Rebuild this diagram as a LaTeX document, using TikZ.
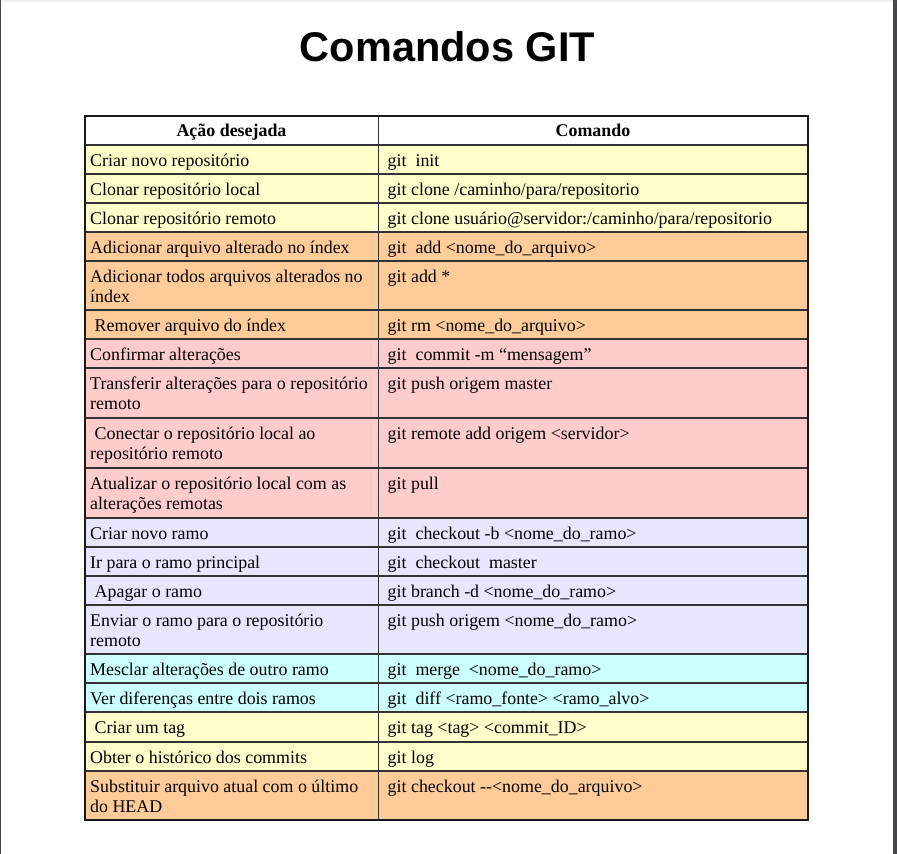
\documentclass[tikz,border=0pt]{standalone}
\usepackage{fontspec}
\setmainfont{Liberation Serif}
\newfontfamily\titlefont{Liberation Sans}
\definecolor{rowY}{HTML}{FFFFCC}
\definecolor{rowO}{HTML}{FFCC99}
\definecolor{rowP}{HTML}{FFCCCC}
\definecolor{rowL}{HTML}{E6E6FF}
\definecolor{rowC}{HTML}{CCFFFF}
\definecolor{pagegray}{HTML}{46484B}
\definecolor{gridcol}{HTML}{333333}
\newcommand\gitrow[8]{%
  \fill[#4] (85,#2) rectangle (808,#3);
  \node[cell] (#1a) at (#8,#2+21.8) {#5};
  \ifx\relax#6\relax\else\node[cell] (#1b) at (90,#2+41.8) {#6};\fi
  \node[cell] (#1c) at (387.5,#2+21.8) {#7};
}
\begin{document}
\begin{tikzpicture}[x=1pt,y=-1pt,
  cell/.style={anchor=base west,inner sep=0pt,font=\fontsize{17.9}{20.5}\selectfont},
  headcell/.style={anchor=base,inner sep=0pt,font=\bfseries\fontsize{17.9}{20.5}\selectfont},
  gridline/.style={draw=gridcol,line width=1.3pt},
  outerline/.style={draw=black!90,line width=1.5pt}]
\useasboundingbox (0,0) rectangle (897,854);
\fill[white] (0,0) rectangle (897,854);
\fill[pagegray] (892.5,0) rectangle (897,854);
\fill[pagegray] (0,0) rectangle (1.3,854);
\fill[black!6] (1.3,0) rectangle (892.5,2);

\node[font=\titlefont\bfseries\fontsize{41.5}{48}\selectfont,anchor=base,inner sep=0pt] (title) at (447.5,61.7) {Comandos GIT};

\node[headcell] (h1) at (231.5,136.8) {Ação desejada};
\node[headcell] (h2) at (593,136.8) {Comando};

\gitrow{r1}{145}{174}{rowY}{Criar novo repositório}{}{git\ \ init}{90}
\gitrow{r2}{174}{203}{rowY}{Clonar repositório local}{}{git clone /caminho/para/repositorio}{90}
\gitrow{r3}{203}{232}{rowY}{Clonar repositório remoto}{}{git clone usuário@servidor:/caminho/para/repositorio}{90}
\gitrow{r4}{232}{261}{rowO}{Adicionar arquivo alterado no índex}{}{git\ \ add <nome\_do\_arquivo>}{90}
\gitrow{r5}{261}{310}{rowO}{Adicionar todos arquivos alterados no}{índex}{git add *}{90}
\gitrow{r6}{310}{339}{rowO}{Remover arquivo do índex}{}{git rm <nome\_do\_arquivo>}{94.5}
\gitrow{r7}{339}{368}{rowP}{Confirmar alterações}{}{git\ \ commit -m “mensagem”}{90}
\gitrow{r8}{368}{418}{rowP}{Transferir alterações para o repositório}{remoto}{git push origem master}{90}
\gitrow{r9}{418}{468}{rowP}{Conectar o repositório local ao}{repositório remoto}{git remote add origem <servidor>}{94.5}
\gitrow{r10}{468}{518}{rowP}{Atualizar o repositório local com as}{alterações remotas}{git pull}{90}
\gitrow{r11}{518}{547}{rowL}{Criar novo ramo}{}{git\ \ checkout -b <nome\_do\_ramo>}{90}
\gitrow{r12}{547}{576}{rowL}{Ir para o ramo principal}{}{git\ \ checkout\ \ master}{90}
\gitrow{r13}{576}{605}{rowL}{Apagar o ramo}{}{git branch -d <nome\_do\_ramo>}{94.5}
\gitrow{r14}{605}{654}{rowL}{Enviar o ramo para o repositório}{remoto}{git push origem <nome\_do\_ramo>}{90}
\gitrow{r15}{654}{683}{rowC}{Mesclar alterações de outro ramo}{}{git\ \ merge\ \ <nome\_do\_ramo>}{90}
\gitrow{r16}{683}{712}{rowC}{Ver diferenças entre dois ramos}{}{git\ \ diff <ramo\_fonte> <ramo\_alvo>}{90}
\gitrow{r17}{712}{742}{rowY}{Criar um tag}{}{git tag <tag> <commit\_ID>}{94.5}
\gitrow{r18}{742}{771}{rowY}{Obter o histórico dos commits}{}{git log}{90}
\gitrow{r19}{771}{820}{rowO}{Substituir arquivo atual com o último}{do HEAD}{git checkout -{}-<nome\_do\_arquivo>}{90}

\foreach \yy in {145,174,203,232,261,310,339,368,418,468,518,547,576,605,654,683,712,742,771}
  \draw[gridline] (85,\yy) -- (808,\yy);
\draw[gridline] (378.5,116) -- (378.5,820);
\draw[outerline] (85,116) rectangle (808,820);
\end{tikzpicture}
\end{document}
